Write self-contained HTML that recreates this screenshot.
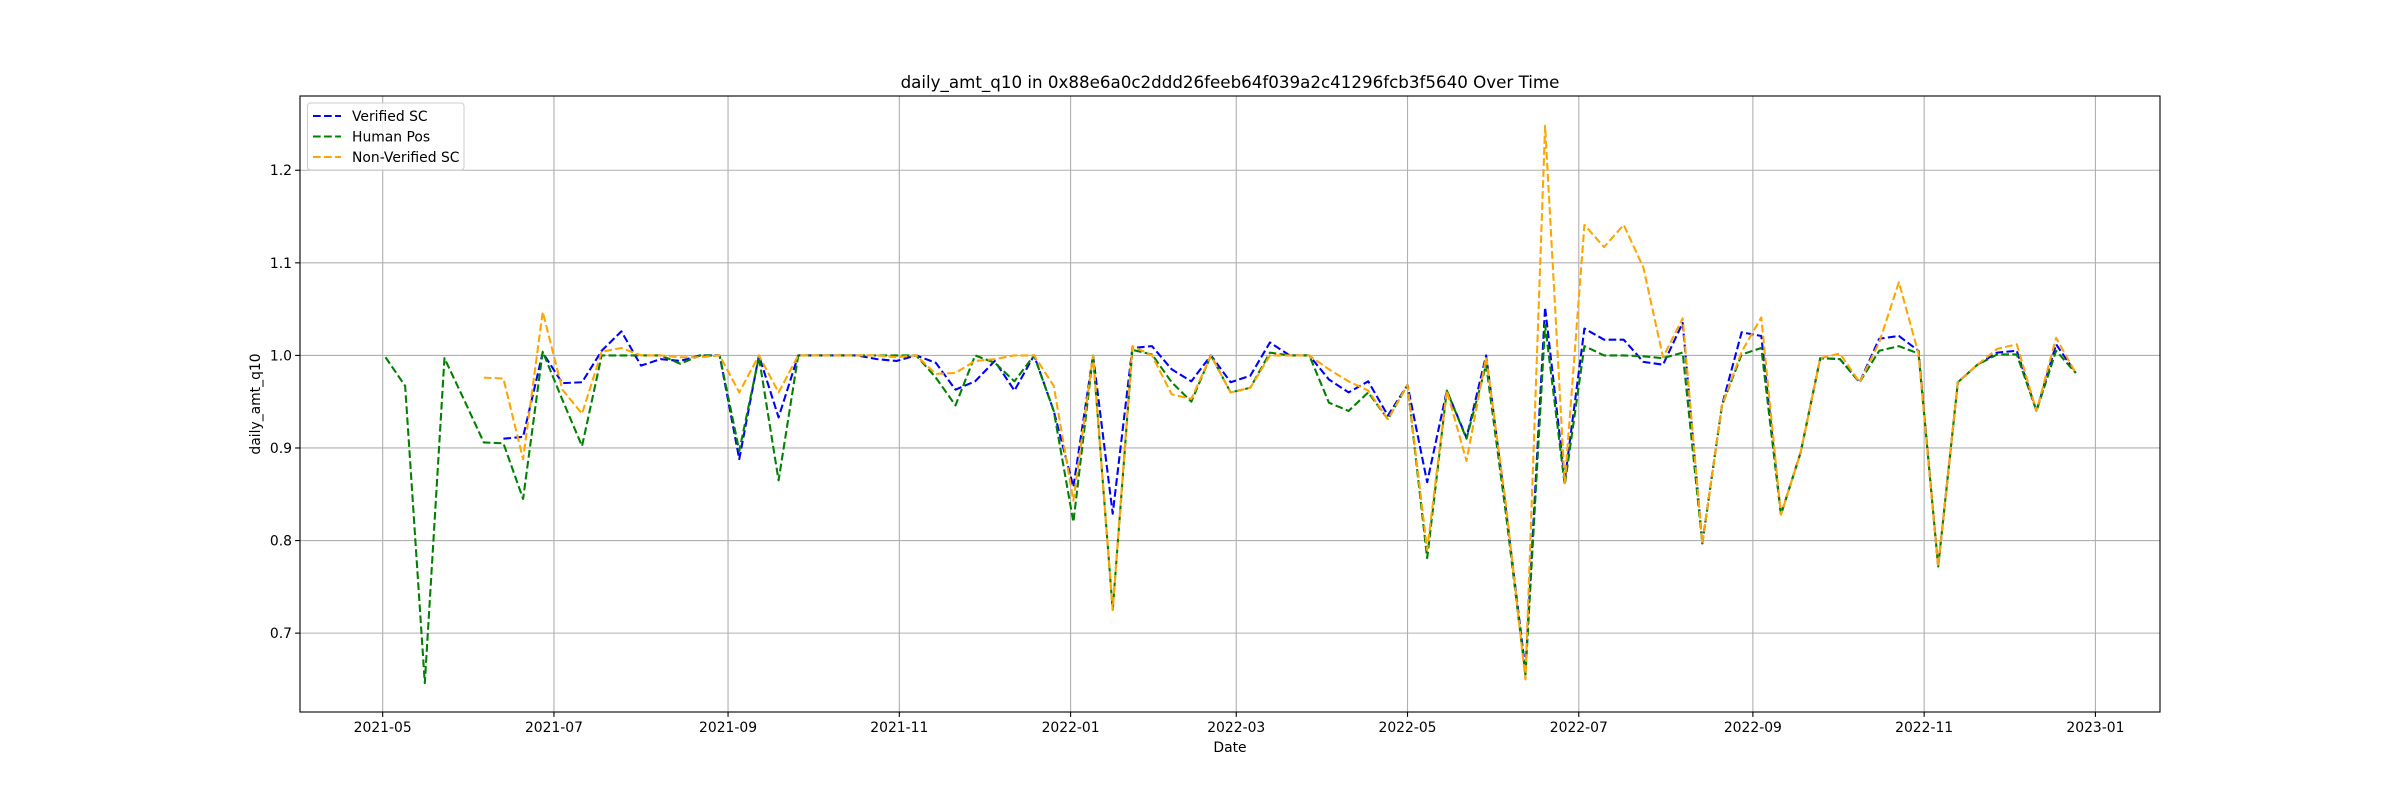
<!DOCTYPE html>
<html><head><meta charset="utf-8"><style>
html,body{margin:0;padding:0;background:#fff;}
svg{display:block;font-family:"DejaVu Sans","Liberation Sans",sans-serif;}
</style></head><body>
<svg id="chart" width="2400" height="800" viewBox="0 0 2400 800" xmlns="http://www.w3.org/2000/svg">
<rect x="0" y="0" width="2400" height="800" fill="#fff"/>
<text x="1230" y="88" font-size="16.7" text-anchor="middle" fill="#000">daily_amt_q10 in 0x88e6a0c2ddd26feeb64f039a2c41296fcb3f5640 Over Time</text>
<g id="grid"></g>
<g id="series"></g>
<rect x="300" y="96" width="1860" height="616" fill="none" stroke="#000" stroke-width="1.1"/>
<g id="ticks"></g>
<text x="1230" y="752" font-size="13.9" text-anchor="middle">Date</text>
<text x="0" y="0" font-size="13.9" text-anchor="middle" transform="translate(260,404) rotate(-90)">daily_amt_q10</text>
<g>
<rect x="307.5" y="103" width="156.5" height="67" rx="3" fill="#fff" fill-opacity="0.8" stroke="#ccc" stroke-width="1"/>
<g><line x1="313" y1="116" x2="341" y2="116" stroke="blue" stroke-width="2.08" stroke-dasharray="7.7,3.33"/><text x="352" y="121" font-size="13.9">Verified SC</text></g>
<g><line x1="313" y1="136.5" x2="341" y2="136.5" stroke="green" stroke-width="2.08" stroke-dasharray="7.7,3.33"/><text x="352" y="141.5" font-size="13.9">Human Pos</text></g>
<g><line x1="313" y1="157" x2="341" y2="157" stroke="orange" stroke-width="2.08" stroke-dasharray="7.7,3.33"/><text x="352" y="162" font-size="13.9">Non-Verified SC</text></g>
</g>
</svg>
<script>
// weekly data starting 2021-05-02
const startDate = "2021-05-02";
const verifiedSC = [null,null,null,null,null,null,0.910,0.912,1.003,0.970,0.971,1.005,1.026,0.989,0.996,0.994,1.0,1.0,0.888,1.0,
0.933,1.0,1.0,1.0,1.0,0.996,0.994,1.0,0.992,0.963,0.972,0.994,0.962,1.0,0.94,0.858,1.0,0.829,1.008,1.01,
0.985,0.972,1.0,0.971,0.978,1.014,1.0,1.0,0.974,0.96,0.972,0.935,0.968,0.863,0.962,0.911,1.0,0.835,0.66,1.052,
0.865,1.029,1.017,1.017,0.993,0.99,1.035,0.797,0.946,1.025,1.021,0.828,0.895,0.997,0.996,0.971,1.018,1.021,1.005,0.772,
0.971,0.99,1.003,1.005,0.94,1.012,0.981];
const humanPos = [0.998,0.967,0.646,0.997,0.952,0.906,0.905,0.845,1.004,0.952,0.902,1.0,1.0,1.0,1.0,0.991,1.0,1.0,0.897,0.998,
0.865,1.0,1.0,1.0,1.0,1.0,1.0,1.0,0.976,0.946,1.0,0.992,0.972,1.0,0.94,0.82,1.0,0.725,1.006,1.001,
0.971,0.95,1.0,0.96,0.965,1.003,1.0,1.0,0.949,0.94,0.96,0.931,0.968,0.781,0.962,0.91,0.99,0.83,0.655,1.033,
0.86,1.01,1.0,1.0,0.999,0.997,1.003,0.797,0.946,1.001,1.008,0.828,0.895,0.997,0.996,0.971,1.005,1.01,1.002,0.772,
0.971,0.99,1.001,1.001,0.94,1.005,0.981];
const nonVerifiedSC = [null,null,null,null,null,0.976,0.975,0.888,1.047,0.963,0.937,1.004,1.008,1.0,1.0,0.998,0.998,1.0,0.96,1.0,
0.96,1.0,1.0,1.0,1.0,1.0,0.998,1.0,0.98,0.981,0.994,0.996,1.0,1.0,0.967,0.843,1.0,0.725,1.01,1.0,
0.958,0.953,1.0,0.96,0.965,1.0,1.0,1.0,0.985,0.972,0.962,0.931,0.968,0.79,0.962,0.886,0.998,0.84,0.65,1.248,
0.862,1.141,1.117,1.141,1.095,0.998,1.04,0.797,0.946,1.004,1.041,0.828,0.895,0.997,1.002,0.971,1.014,1.079,1.002,0.772,
0.971,0.99,1.007,1.012,0.94,1.019,0.981];
const yTicks = [0.7,0.8,0.9,1.0,1.1,1.2];
const xTickLabels = ["2021-05","2021-07","2021-09","2021-11","2022-01","2022-03","2022-05","2022-07","2022-09","2022-11","2023-01"];

const L=300,R=2160,T=96,B=712;
const ORIGIN=Date.UTC(2021,4,1), DAY=86400000;
const xDom=[-29.45,633.0], yDom=[0.6148,1.2802];
function dayOf(s){const p=s.split('-').map(Number);return (Date.UTC(p[0],p[1]-1,p[2]||1)-ORIGIN)/DAY;}
function xScale(d){return L+(d-xDom[0])/(xDom[1]-xDom[0])*(R-L);}
function yScale(v){return B-(v-yDom[0])/(yDom[1]-yDom[0])*(B-T);}
const NS="http://www.w3.org/2000/svg";
function mk(tag,attrs,parent){const e=document.createElementNS(NS,tag);for(const k in attrs)e.setAttribute(k,attrs[k]);parent.appendChild(e);return e;}
const grid=document.getElementById('grid'),ticks=document.getElementById('ticks'),series=document.getElementById('series');
xTickLabels.forEach(lbl=>{
  const x=xScale(dayOf(lbl));
  const g=mk('line',{x1:x,y1:T,x2:x,y2:B,stroke:'#b0b0b0','stroke-width':1.1},grid);
  
  
  const t=mk('line',{x1:x,y1:B,x2:x,y2:B+4.9,stroke:'#000','stroke-width':1.1},ticks);
  
  
  const tx=mk('text',{x:x,y:B+20,'font-size':13.9,'text-anchor':'middle'},ticks);
  tx.textContent=lbl;
  
  
});
yTicks.forEach(v=>{
  const y=yScale(v);
  const g=mk('line',{x1:L,y1:y,x2:R,y2:y,stroke:'#b0b0b0','stroke-width':1.1},grid);
  
  
  const t=mk('line',{x1:L-4.9,y1:y,x2:L,y2:y,stroke:'#000','stroke-width':1.1},ticks);
  
  
  const tx=mk('text',{x:L-8,y:y+5,'font-size':13.9,'text-anchor':'end'},ticks);
  tx.textContent=v.toFixed(1);
  
  
});
const d0=dayOf(startDate);
function drawSeries(vals,color,name){
  let d='',pen=false;
  vals.forEach((v,i)=>{
    if(v===null){pen=false;return;}
    const x=xScale(d0+7*i),y=yScale(v);
    d+=(pen?'L':'M')+x.toFixed(2)+','+y.toFixed(2);pen=true;
  });
  const p=mk('path',{d:d,fill:'none',stroke:color,'stroke-width':2.08,'stroke-dasharray':'7.7,3.33','stroke-linejoin':'round'},series);
  
  
}
drawSeries(verifiedSC,'blue','verified-sc-line');
drawSeries(humanPos,'green','human-pos-line');
drawSeries(nonVerifiedSC,'orange','non-verified-sc-line');
</script>
</body></html>
